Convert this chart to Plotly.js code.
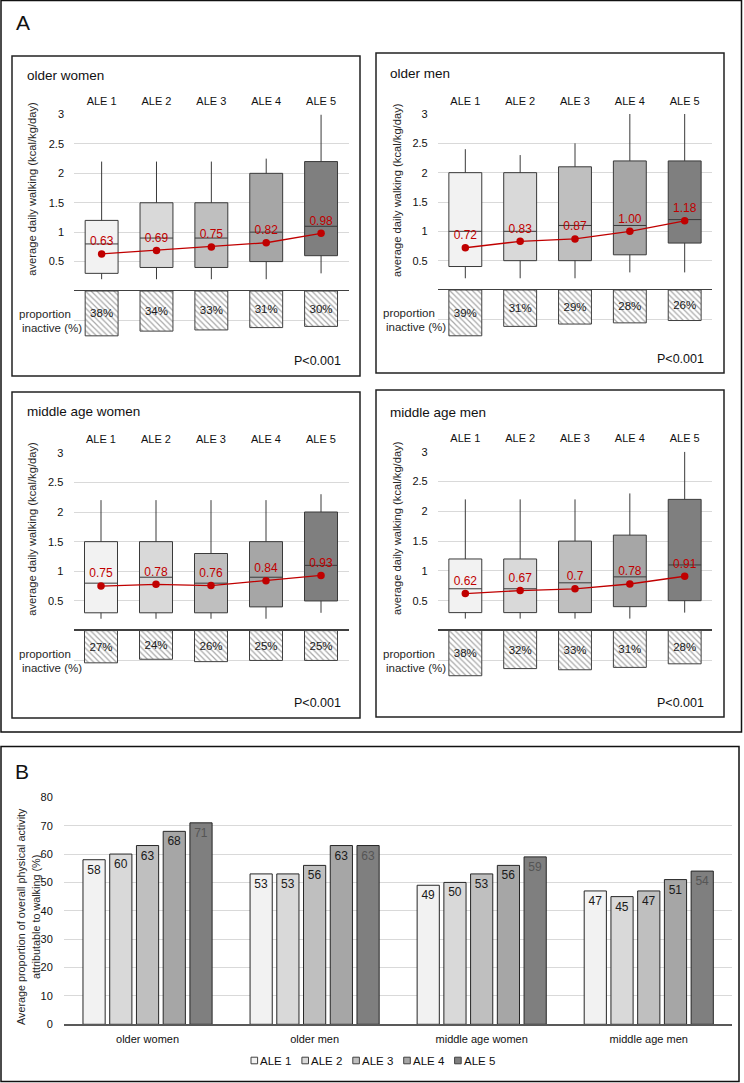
<!DOCTYPE html>
<html>
<head>
<meta charset="utf-8">
<script src="https://cdn.plot.ly/plotly-3.0.1.min.js"></script>
<style>html,body{margin:0;padding:0;background:#fff;}#chart{width:744px;height:1083px;}</style>
</head>
<body>
<div id="chart"></div>
<script>
// ---------- DATA ----------
const categories = ['ALE 1', 'ALE 2', 'ALE 3', 'ALE 4', 'ALE 5'];
const groups = ['older women', 'older men', 'middle age women', 'middle age men'];

// Panel A: average daily walking (kcal/kg/day) box summaries
const olderWomenLower  = [0.2, 0.2, 0.2, 0.2, 0.3];
const olderWomenQ1     = [0.3, 0.4, 0.4, 0.5, 0.6];
const olderWomenMedian = [0.8, 0.9, 0.9, 1.0, 1.1];
const olderWomenQ3     = [1.2, 1.5, 1.5, 2.0, 2.2];
const olderWomenUpper  = [2.2, 2.2, 2.2, 2.25, 3.0];
const olderWomenMean   = [0.63, 0.69, 0.75, 0.82, 0.98];
const olderWomenInactive = [38, 34, 33, 31, 30];

const olderMenLower  = [0.2, 0.2, 0.2, 0.3, 0.3];
const olderMenQ1     = [0.4, 0.5, 0.5, 0.6, 0.8];
const olderMenMedian = [1.0, 1.0, 1.1, 1.1, 1.2];
const olderMenQ3     = [2.0, 2.0, 2.1, 2.2, 2.2];
const olderMenUpper  = [2.4, 2.3, 2.5, 3.0, 3.0];
const olderMenMean   = [0.72, 0.83, 0.87, 1.00, 1.18];
const olderMenMeanText = ['0.72', '0.83', '0.87', '1.00', '1.18'];
const olderMenInactive = [39, 31, 29, 28, 26];

const middleWomenLower  = [0.2, 0.2, 0.2, 0.2, 0.3];
const middleWomenQ1     = [0.3, 0.3, 0.3, 0.4, 0.5];
const middleWomenMedian = [0.8, 0.9, 0.8, 0.9, 1.1];
const middleWomenQ3     = [1.5, 1.5, 1.3, 1.5, 2.0];
const middleWomenUpper  = [2.2, 2.2, 2.2, 2.2, 2.3];
const middleWomenMean   = [0.75, 0.78, 0.76, 0.84, 0.93];
const middleWomenInactive = [27, 24, 26, 25, 25];

const middleMenLower  = [0.2, 0.2, 0.2, 0.2, 0.3];
const middleMenQ1     = [0.3, 0.3, 0.3, 0.4, 0.5];
const middleMenMedian = [0.7, 0.7, 0.8, 0.9, 1.1];
const middleMenQ3     = [1.2, 1.2, 1.5, 1.6, 2.2];
const middleMenUpper  = [2.2, 2.2, 2.2, 2.3, 3.0];
const middleMenMean   = [0.62, 0.67, 0.7, 0.78, 0.91];
const middleMenInactive = [38, 32, 33, 31, 28];

const walkTickVals = [0.5, 1, 1.5, 2, 2.5, 3];
const walkTickText = ['0.5', '1', '1.5', '2', '2.5', '3'];

// Panel B: share of overall PA attributable to walking (%)
const ale1Share = [58, 53, 49, 47];
const ale2Share = [60, 53, 50, 45];
const ale3Share = [63, 56, 53, 47];
const ale4Share = [68, 63, 56, 51];
const ale5Share = [71, 63, 59, 54];

// ---------- STYLE / LAYOUT ----------
const W = 744, H = 1083;
const fx = p => p / W;
const fy = p => 1 - p / H;
const FONT = 'Liberation Sans, Arial, sans-serif';
const fills = ['#f2f2f2', '#d9d9d9', '#bfbfbf', '#a6a6a6', '#7f7f7f'];
const RED = '#c00000';
const GRID = '#d9d9d9';

const panels = [
  {name: groups[0], lower: olderWomenLower, q1: olderWomenQ1, med: olderWomenMedian, q3: olderWomenQ3, upper: olderWomenUpper, mean: olderWomenMean, meanText: olderWomenMean.map(String), inactive: olderWomenInactive},
  {name: groups[1], lower: olderMenLower, q1: olderMenQ1, med: olderMenMedian, q3: olderMenQ3, upper: olderMenUpper, mean: olderMenMean, meanText: olderMenMeanText, inactive: olderMenInactive},
  {name: groups[2], lower: middleWomenLower, q1: middleWomenQ1, med: middleWomenMedian, q3: middleWomenQ3, upper: middleWomenUpper, mean: middleWomenMean, meanText: middleWomenMean.map(String), inactive: middleWomenInactive},
  {name: groups[3], lower: middleMenLower, q1: middleMenQ1, med: middleMenMedian, q3: middleMenQ3, upper: middleMenUpper, mean: middleMenMean, meanText: middleMenMean.map(String), inactive: middleMenInactive}
];

const geo = [
  {box: [12, 56, 360, 376], x: [74.2, 348.5], top: 114.5, zero: 291, low: 350, title: [25, 75], ytitle: [31.7, 189], prop: [49, 321], p: [343.3, 361]},
  {box: [376, 53, 724, 373], x: [437.9, 712.1], top: 114, zero: 290, low: 348.7, title: [387.7, 73.3], ytitle: [397, 190], prop: [413, 320], p: [706.3, 359.3]},
  {box: [12, 392, 360, 718], x: [73.5, 348.5], top: 452.7, zero: 630.6, low: 690.3, title: [25, 412], ytitle: [31.7, 529], prop: [49, 661], p: [343.3, 702.7]},
  {box: [376, 390, 724, 717], x: [437.9, 712.1], top: 451.7, zero: 630.5, low: 690, title: [387.7, 412.3], ytitle: [397, 528], prop: [413, 661], p: [706.3, 702.7]}
];

const data = [];
const layout = {
  width: W, height: H,
  margin: {l: 0, r: 0, t: 0, b: 0},
  paper_bgcolor: '#ffffff', plot_bgcolor: 'rgba(0,0,0,0)',
  font: {family: FONT, size: 11, color: '#262626'},
  showlegend: false,
  boxmode: 'overlay',
  barmode: 'group',
  bargap: 0.2,
  bargroupgap: 0.17,
  shapes: [], annotations: []
};

function ann(text, x, y, opts) {
  return Object.assign({text: text, x: fx(x), y: fy(y), xref: 'paper', yref: 'paper', showarrow: false,
    font: {family: FONT, size: 11, color: '#262626'}}, opts || {});
}

// outer frames
layout.shapes.push({type: 'rect', xref: 'paper', yref: 'paper', x0: fx(1), x1: fx(741.5), y0: fy(0.5), y1: fy(732), line: {color: '#111', width: 1.5}});
layout.shapes.push({type: 'rect', xref: 'paper', yref: 'paper', x0: fx(1), x1: fx(739), y0: fy(746.5), y1: fy(1081.5), line: {color: '#111', width: 1.5}});
layout.annotations.push(ann('A', 14, 22, {xanchor: 'left', yanchor: 'middle', font: {family: FONT, size: 21, color: '#111'}}));
layout.annotations.push(ann('B', 13, 771, {xanchor: 'left', yanchor: 'middle', font: {family: FONT, size: 21, color: '#111'}}));

panels.forEach((pn, i) => {
  const g = geo[i];
  const nTop = 2 * i + 1, nLow = 2 * i + 2;
  const xT = 'x' + nTop, yT = 'y' + nTop, xL = 'x' + nLow, yL = 'y' + nLow;
  const dom = [fx(g.x[0]), fx(g.x[1])];

  layout['xaxis' + nTop] = {domain: dom, anchor: yT, type: 'category', categoryarray: categories, range: [-0.5, 4.5],
    side: 'top', showgrid: false, zeroline: false, showline: false, ticks: 'outside', ticklen: 4, tickcolor: 'rgba(0,0,0,0)',
    tickfont: {family: FONT, size: 11, color: '#111'}, fixedrange: true};
  layout['yaxis' + nTop] = {domain: [fy(g.zero), fy(g.top)], anchor: xT, range: [0, 3], tickvals: walkTickVals, ticktext: walkTickText,
    showgrid: true, gridcolor: GRID, gridwidth: 1, zeroline: false, showline: false, ticks: 'outside', ticklen: 7, tickcolor: 'rgba(0,0,0,0)',
    tickfont: {family: FONT, size: 11, color: '#111'}, fixedrange: true};
  layout['xaxis' + nLow] = {domain: dom, anchor: yL, type: 'category', categoryarray: categories, range: [-0.5, 4.5],
    side: 'top', showgrid: false, zeroline: false, showline: true, linecolor: '#404040', linewidth: 1.2, showticklabels: false, ticks: '', fixedrange: true};
  layout['yaxis' + nLow] = {domain: [fy(g.low), fy(g.zero)], anchor: xL, range: [50, 0], tickvals: [25, 50],
    showgrid: true, gridcolor: GRID, gridwidth: 1, zeroline: false, showline: false, showticklabels: false, ticks: '', fixedrange: true};

  categories.forEach((c, k) => {
    data.push({type: 'box', xaxis: xT, yaxis: yT, x: [c], q1: [pn.q1[k]], median: [pn.med[k]], q3: [pn.q3[k]],
      lowerfence: [pn.lower[k]], upperfence: [pn.upper[k]], boxpoints: false, width: 0.6, whiskerwidth: 0,
      fillcolor: fills[k], line: {color: '#3a3a3a', width: 1}, showlegend: false, hoverinfo: 'skip'});
  });

  data.push({type: 'scatter', xaxis: xT, yaxis: yT, x: categories, y: pn.mean, text: pn.meanText, mode: 'lines+markers+text',
    textposition: 'top center', textfont: {family: FONT, size: 12, color: RED}, line: {color: RED, width: 1.3},
    marker: {color: RED, size: 7.5}, cliponaxis: false, showlegend: false, hoverinfo: 'skip'});

  data.push({type: 'bar', xaxis: xL, yaxis: yL, x: categories, y: pn.inactive, width: 0.6,
    text: pn.inactive.map(v => v + '%'), textposition: 'inside', insidetextanchor: 'middle', textangle: 0, constraintext: 'none',
    insidetextfont: {family: FONT, size: 11.5, color: '#1a1a1a'},
    marker: {color: '#ffffff', line: {color: '#404040', width: 1}, pattern: {shape: '\\', fgcolor: '#a8a8a8', bgcolor: '#ffffff', size: 4, solidity: 0.3}},
    showlegend: false, hoverinfo: 'skip'});

  layout.shapes.push({type: 'rect', xref: 'paper', yref: 'paper', x0: fx(g.box[0]), x1: fx(g.box[2]), y0: fy(g.box[1]), y1: fy(g.box[3]),
    line: {color: '#222', width: 1.5}});
  layout.annotations.push(ann(pn.name, g.title[0], g.title[1], {xanchor: 'left', yanchor: 'middle', font: {family: FONT, size: 13.5, color: '#111'}}));
  layout.annotations.push(ann('average daily walking (kcal/kg/day)', g.ytitle[0], g.ytitle[1], {textangle: -90, xanchor: 'center', yanchor: 'middle', font: {family: FONT, size: 11.2, color: '#262626'}}));
  layout.annotations.push(ann('proportion', g.prop[0] - 4, g.prop[1] - 7, {xanchor: 'center', yanchor: 'middle', font: {family: FONT, size: 11.5, color: '#262626'}}));
  layout.annotations.push(ann('inactive (%)', g.prop[0] + 3, g.prop[1] + 7, {xanchor: 'center', yanchor: 'middle', font: {family: FONT, size: 11.5, color: '#262626'}}));
  layout.annotations.push(ann('P<0.001', g.p[0], g.p[1], {xanchor: 'right', yanchor: 'middle', font: {family: FONT, size: 12.5, color: '#111'}}));
});

// Panel B
const shares = [ale1Share, ale2Share, ale3Share, ale4Share, ale5Share];
layout.xaxis9 = {domain: [fx(64), fx(732.3)], anchor: 'y9', type: 'category', categoryarray: groups,
  showgrid: false, zeroline: false, showline: true, linecolor: '#595959', linewidth: 1.2, ticks: 'outside', ticklen: 4, tickcolor: 'rgba(0,0,0,0)',
  tickfont: {family: FONT, size: 11, color: '#111'}, fixedrange: true};
layout.yaxis9 = {domain: [fy(1024.3), fy(797.3)], anchor: 'x9', range: [0, 80], dtick: 10,
  showgrid: true, gridcolor: GRID, gridwidth: 1, zeroline: false, showline: false, ticks: 'outside', ticklen: 8, tickcolor: 'rgba(0,0,0,0)',
  tickfont: {family: FONT, size: 11, color: '#111'}, fixedrange: true};
shares.forEach((s, k) => {
  data.push({type: 'bar', xaxis: 'x9', yaxis: 'y9', name: categories[k], x: groups, y: s, text: s.map(String),
    textposition: 'inside', insidetextanchor: 'end', textangle: 0, constraintext: 'none',
    insidetextfont: {family: FONT, size: 12, color: k === 4 ? '#555' : '#1a1a1a'},
    marker: {color: fills[k], line: {color: '#262626', width: 1}}, showlegend: false, hoverinfo: 'skip'});
});
layout.annotations.push(ann('Average proportion of overall physical activity', 21, 917,
  {textangle: -90, xanchor: 'center', yanchor: 'middle', font: {family: FONT, size: 10.8, color: '#262626'}}));
layout.annotations.push(ann('attributable to walking (%)', 36, 917,
  {textangle: -90, xanchor: 'center', yanchor: 'middle', font: {family: FONT, size: 10.8, color: '#262626'}}));

// compact legend key (small squares followed directly by the series name)
const legendY = 1060.5, legendStart = 254.3, legendStep = 50.9;
categories.forEach((c, k) => {
  const cx = legendStart + k * legendStep;
  layout.shapes.push({type: 'rect', xref: 'paper', yref: 'paper', x0: fx(cx - 3.3), x1: fx(cx + 3.3), y0: fy(legendY + 3.3), y1: fy(legendY - 3.3),
    fillcolor: fills[k], line: {color: '#404040', width: 1}});
  layout.annotations.push(ann(c, cx + 4, legendY, {xanchor: 'left', yanchor: 'middle', font: {family: FONT, size: 11.5, color: '#111'}}));
});

Plotly.newPlot('chart', data, layout, {displayModeBar: false, staticPlot: true});
</script>
</body>
</html>
